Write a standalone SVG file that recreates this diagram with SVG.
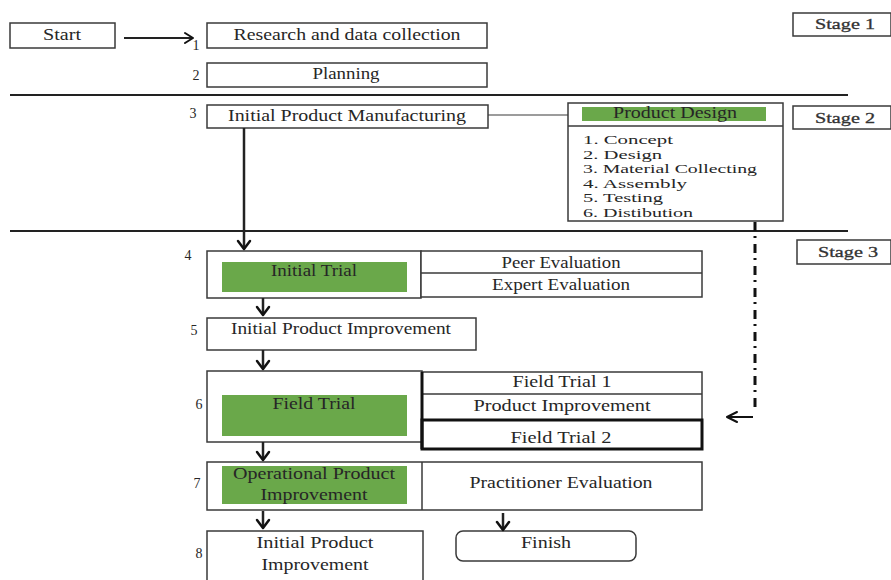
<svg xmlns="http://www.w3.org/2000/svg" width="891" height="580" viewBox="0 0 891 580">
<style>
.bx{fill:#fff;stroke:#3a3a3a;stroke-width:1.5}
.g{fill:#6aa84a;stroke:none}
.t{font-family:"Liberation Serif","Times New Roman",serif;font-size:16px;fill:#262626;text-anchor:middle}
.tl{font-family:"Liberation Serif","Times New Roman",serif;font-size:13.5px;fill:#262626}
.n{font-family:"Liberation Serif","Times New Roman",serif;font-size:14px;fill:#262626;text-anchor:middle}
.st{font-family:"Liberation Serif","Times New Roman",serif;font-size:15px;fill:#333;stroke:#333;stroke-width:0.3}
.ln{fill:none;stroke:#222;stroke-width:2}
.ar{fill:none;stroke:#111;stroke-width:2.5;stroke-linecap:round;stroke-linejoin:round}
</style>
<rect width="891" height="580" fill="#fff"/>

<!-- separators -->
<line x1="10" y1="95" x2="848" y2="95" stroke="#222" stroke-width="2"/>
<line x1="10" y1="231" x2="848" y2="231" stroke="#222" stroke-width="2"/>

<!-- stages -->
<g id="stage1"><rect class="bx" x="793" y="13" width="98" height="23"/><text class="st" x="815" y="29" textLength="60" lengthAdjust="spacingAndGlyphs">Stage 1</text></g>
<g id="stage2"><rect class="bx" x="793" y="106" width="98" height="23"/><text class="st" x="815" y="123" textLength="60" lengthAdjust="spacingAndGlyphs">Stage 2</text></g>
<g id="stage3"><rect class="bx" x="797" y="240" width="94" height="24"/><text class="st" x="818" y="257" textLength="60" lengthAdjust="spacingAndGlyphs">Stage 3</text></g>

<g id="start"><rect class="bx" x="10" y="23" width="105" height="25"/><text class="t" x="62" y="40" textLength="38" lengthAdjust="spacingAndGlyphs">Start</text></g>

<g id="n1"><text class="n" x="196" y="50">1</text><rect class="bx" x="207" y="23" width="280" height="25"/><text class="t" x="347" y="40" textLength="227" lengthAdjust="spacingAndGlyphs">Research and data collection</text></g>
<g id="n2"><text class="n" x="196" y="80">2</text><rect class="bx" x="207" y="63" width="280" height="24"/><text class="t" x="346" y="79" textLength="67" lengthAdjust="spacingAndGlyphs">Planning</text></g>
<g id="n3"><text class="n" x="193" y="118">3</text><rect class="bx" x="207" y="105" width="281" height="23"/><text class="t" x="347" y="121" textLength="238" lengthAdjust="spacingAndGlyphs">Initial Product Manufacturing</text></g>

<g id="productDesign">
<rect class="bx" x="568" y="103" width="215" height="118"/>
<line x1="568" y1="126" x2="783" y2="126" stroke="#3a3a3a" stroke-width="1.5"/>
<rect class="g" x="582" y="107" width="184" height="14"/>
<text class="t" x="675" y="118" textLength="124" lengthAdjust="spacingAndGlyphs">Product Design</text>
<text class="tl" x="583" y="144" textLength="90" lengthAdjust="spacingAndGlyphs">1. Concept</text>
<text class="tl" x="583" y="158.5" textLength="79" lengthAdjust="spacingAndGlyphs">2. Design</text>
<text class="tl" x="583" y="173" textLength="174" lengthAdjust="spacingAndGlyphs">3. Material Collecting</text>
<text class="tl" x="583" y="187.5" textLength="104" lengthAdjust="spacingAndGlyphs">4. Assembly</text>
<text class="tl" x="583" y="202" textLength="80" lengthAdjust="spacingAndGlyphs">5. Testing</text>
<text class="tl" x="583" y="216.5" textLength="110" lengthAdjust="spacingAndGlyphs">6. Distibution</text>
</g>

<g id="n4">
<text class="n" x="188" y="260">4</text>
<rect class="bx" x="207" y="251" width="214" height="47"/>
<rect class="g" x="222" y="262" width="185" height="30"/>
<text class="t" x="314" y="276" textLength="86" lengthAdjust="spacingAndGlyphs">Initial Trial</text>
<rect class="bx" x="421" y="251" width="281" height="46"/>
<line x1="421" y1="273" x2="702" y2="273" stroke="#3a3a3a" stroke-width="1.5"/>
<text class="t" x="561" y="268" textLength="119" lengthAdjust="spacingAndGlyphs">Peer Evaluation</text>
<text class="t" x="561" y="290" textLength="138" lengthAdjust="spacingAndGlyphs">Expert Evaluation</text>
</g>

<g id="n5">
<text class="n" x="194" y="335">5</text>
<rect class="bx" x="207" y="318" width="269" height="32"/>
<text class="t" x="341" y="334" textLength="220" lengthAdjust="spacingAndGlyphs">Initial Product Improvement</text>
</g>

<g id="n6">
<text class="n" x="199" y="409">6</text>
<rect class="bx" x="207" y="371" width="215" height="71"/>
<rect class="g" x="222" y="395" width="185" height="41"/>
<text class="t" x="314" y="409" textLength="83" lengthAdjust="spacingAndGlyphs">Field Trial</text>
<rect class="bx" x="422" y="372" width="280" height="48"/>
<line x1="422" y1="394" x2="702" y2="394" stroke="#3a3a3a" stroke-width="1.5"/>
<rect x="422" y="420" width="280" height="29" fill="#fff" stroke="#111" stroke-width="3"/>
<line x1="422" y1="372" x2="422" y2="449" stroke="#111" stroke-width="3"/>
<text class="t" x="562" y="387" textLength="99" lengthAdjust="spacingAndGlyphs">Field Trial 1</text>
<text class="t" x="562" y="411" textLength="177" lengthAdjust="spacingAndGlyphs">Product Improvement</text>
<text class="t" x="561" y="443" style="font-size:17px" textLength="101" lengthAdjust="spacingAndGlyphs">Field Trial 2</text>
</g>

<g id="n7">
<text class="n" x="197" y="488">7</text>
<rect class="bx" x="207" y="462" width="495" height="48"/>
<line x1="422" y1="462" x2="422" y2="510" stroke="#3a3a3a" stroke-width="1.5"/>
<rect class="g" x="222" y="466" width="185" height="38"/>
<text class="t" x="314" y="479" textLength="162" lengthAdjust="spacingAndGlyphs">Operational Product</text>
<text class="t" x="314" y="500" textLength="107" lengthAdjust="spacingAndGlyphs">Improvement</text>
<text class="t" x="561" y="488" textLength="183" lengthAdjust="spacingAndGlyphs">Practitioner Evaluation</text>
</g>

<g id="n8">
<text class="n" x="199" y="558">8</text>
<rect class="bx" x="207" y="531" width="216" height="60"/>
<text class="t" x="315" y="548" textLength="117" lengthAdjust="spacingAndGlyphs">Initial Product</text>
<text class="t" x="315" y="570" textLength="107" lengthAdjust="spacingAndGlyphs">Improvement</text>
</g>

<g id="finish">
<rect class="bx" x="456" y="531" width="180" height="30" rx="7"/>
<text class="t" x="546" y="548" textLength="50" lengthAdjust="spacingAndGlyphs">Finish</text>
</g>

<g id="connectors">
<line class="ln" x1="124" y1="38" x2="192" y2="38"/>
<polyline class="ar" points="185,33 193,38 185,43" style="stroke-width:2"/>
<line x1="488" y1="115" x2="568" y2="115" stroke="#3a3a3a" stroke-width="1.2"/>
<line class="ln" x1="244" y1="128" x2="244" y2="249" style="stroke-width:2.5"/>
<polyline class="ar" points="238,241 244,249 250,241"/>
<line class="ln" x1="263" y1="298" x2="263" y2="314" style="stroke-width:2.5"/>
<polyline class="ar" points="257,307 263,315 269,307"/>
<line class="ln" x1="263" y1="350" x2="263" y2="368" style="stroke-width:2.5"/>
<polyline class="ar" points="257,361 263,369 269,361"/>
<line class="ln" x1="263" y1="442" x2="263" y2="459" style="stroke-width:2.5"/>
<polyline class="ar" points="257,452 263,460 269,452"/>
<line class="ln" x1="263" y1="511" x2="263" y2="527" style="stroke-width:2.5"/>
<polyline class="ar" points="257,520 263,528 269,520"/>
<line class="ln" x1="503" y1="513" x2="503" y2="529" style="stroke-width:2.5"/>
<polyline class="ar" points="497,522 503,530 509,522"/>
<line x1="755" y1="222" x2="755" y2="412" stroke="#111" stroke-width="3" stroke-dasharray="9 5 2 6"/>
<line x1="729" y1="417" x2="753" y2="417" stroke="#111" stroke-width="2"/>
<polyline class="ar" points="737,412 727,417 737,422" style="stroke-width:2"/>
</g>
</svg>
